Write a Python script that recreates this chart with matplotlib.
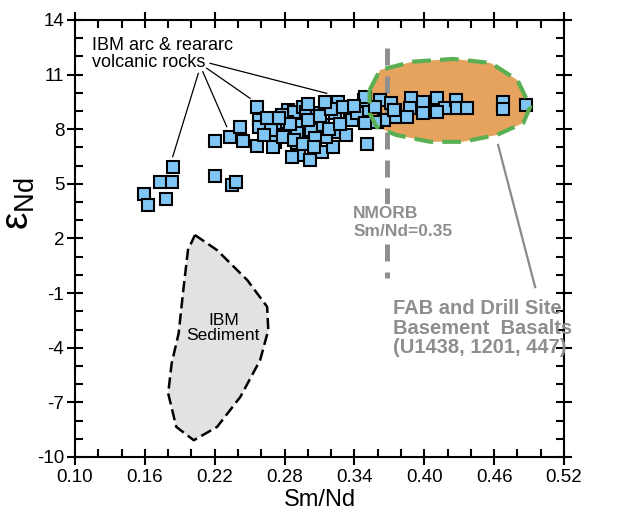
import matplotlib
matplotlib.use("Agg")
import matplotlib.pyplot as plt
from matplotlib.patches import Polygon
import numpy as np

plt.rcParams["font.family"] = ["Liberation Sans", "DejaVu Sans"]
plt.rcParams["axes.unicode_minus"] = False

# IBM arc & rear-arc volcanic rocks (Sm/Nd, eNd)
smnd = [0.184, 0.173, 0.183, 0.159, 0.163, 0.178,
        0.220, 0.220, 0.235, 0.238, 0.233, 0.242, 0.244,
        0.256, 0.258, 0.256, 0.258, 0.273, 0.276, 0.272, 0.270,
        0.283, 0.288, 0.296, 0.298, 0.282, 0.293, 0.291, 0.303, 0.308,
        0.313, 0.326, 0.316, 0.323, 0.325, 0.333, 0.336, 0.338, 0.348,
        0.349, 0.349, 0.351, 0.291, 0.292, 0.302, 0.312, 0.322, 0.286,
        0.268, 0.279, 0.288, 0.316, 0.306, 0.342,
        0.362, 0.371, 0.375, 0.389, 0.399, 0.411, 0.418, 0.427, 0.428,
        0.437, 0.388, 0.399, 0.411, 0.376, 0.359, 0.365, 0.385,
        0.468, 0.468, 0.487,
        0.349, 0.358, 0.358, 0.374, 0.349,
        0.265, 0.300, 0.310, 0.320, 0.330, 0.278, 0.285, 0.296, 0.305,
        0.318, 0.328, 0.340, 0.262, 0.275, 0.300, 0.315]
end = [5.94, 5.12, 5.12, 4.42, 3.84, 4.15,
       7.35, 5.43, 4.93, 5.12, 7.55, 8.10, 7.35,
       9.24, 8.51, 7.10, 8.14, 8.14, 7.68, 7.31, 7.04,
       9.05, 8.96, 9.24, 8.96, 8.41, 8.23, 7.77, 7.96, 8.87,
       8.23, 9.51, 9.33, 8.87, 7.86, 7.68, 8.87, 8.51, 9.60,
       8.96, 8.41, 7.19, 6.95, 6.58, 6.31, 6.76, 7.04, 6.49,
       7.96, 7.59, 7.41, 7.59, 7.50, 8.87,
       9.60, 9.42, 9.05, 9.70, 9.51, 9.70, 9.15, 9.60, 9.15,
       9.15, 9.15, 8.87, 8.96, 8.69, 8.41, 8.51, 8.69,
       9.51, 9.10, 9.33,
       9.79, 9.24, 8.41, 9.05, 8.34,
       8.60, 8.50, 8.70, 9.10, 9.20, 8.80, 8.30, 7.20, 7.00,
       8.00, 8.30, 9.30, 7.70, 8.60, 9.40, 9.50]

# FAB and drill-site basement basalts field outline
fab_x = [0.353, 0.362, 0.390, 0.425, 0.457, 0.480, 0.491, 0.485,
         0.462, 0.433, 0.405, 0.376, 0.359, 0.353]
fab_y = [10.15, 11.25, 11.71, 11.86, 11.64, 10.70, 9.24, 8.34,
         7.68, 7.31, 7.31, 7.68, 8.14, 8.89]

# IBM sediment field outline
sed_x = [0.203, 0.222, 0.248, 0.265, 0.266, 0.259, 0.242, 0.222,
         0.202, 0.187, 0.180, 0.183, 0.189, 0.193, 0.197]
sed_y = [2.19, 1.36, -0.29, -1.75, -3.03, -4.68, -6.70, -8.35,
         -9.08, -8.35, -6.51, -4.86, -3.21, -0.84, 1.36]

# NMORB Sm/Nd reference line
nmorb_x = 0.368
nmorb_top = 12.45
nmorb_bottom = -0.15

# leader lines from the "IBM arc" label
lead_start = [(0.2059, 11.07), (0.2097, 11.16), (0.2131, 11.35), (0.2160, 11.62)]
lead_end = [(0.1839, 6.49), (0.2303, 8.14), (0.2503, 9.70), (0.3162, 9.97)]
fab_lead = [(0.4634, 7.13), (0.4952, -0.67)]

xticks = [0.10, 0.16, 0.22, 0.28, 0.34, 0.40, 0.46, 0.52]
yticks = [-10, -7, -4, -1, 2, 5, 8, 11, 14]
xminor = [0.12, 0.14, 0.18, 0.20, 0.24, 0.26, 0.30, 0.32, 0.36, 0.38,
          0.42, 0.44, 0.48, 0.50]
yminor = [-9, -8, -6, -5, -3, -2, 0, 1, 3, 4, 6, 7, 9, 10, 12, 13]

fig = plt.figure(figsize=(6.17, 5.19), dpi=100)
ax = fig.add_axes([0.1216, 0.1195, 0.7925, 0.842])

gray_txt = "#8e8e8e"

ax.add_patch(Polygon(np.column_stack([sed_x, sed_y]), closed=True,
                     facecolor="#e2e2e2", edgecolor="black", lw=1.8,
                     linestyle=(0, (4.5, 2)), joinstyle="round", zorder=1))
ax.add_patch(Polygon(np.column_stack([fab_x, fab_y]), closed=True,
                     facecolor="#e6a35e", edgecolor="none", zorder=1))
ax.add_patch(Polygon(np.column_stack([fab_x, fab_y]), closed=True,
                     facecolor="none", edgecolor="#5aaf52", lw=3.0,
                     linestyle=(0, (4.5, 2.2)), joinstyle="round", zorder=4))

ax.plot([nmorb_x, nmorb_x], [nmorb_top, nmorb_bottom], color="#8f8f8f",
        lw=3.6, linestyle=(0, (3.4, 2.2)), solid_capstyle="butt", zorder=2)

for (x0, y0), (x1, y1) in zip(lead_start, lead_end):
    ax.plot([x0, x1], [y0, y1], color="black", lw=0.9, zorder=2)
ax.plot([fab_lead[0][0], fab_lead[1][0]], [fab_lead[0][1], fab_lead[1][1]],
        color="#8a8a8a", lw=1.6, zorder=2)

ax.plot(smnd, end, linestyle="none", marker="s", markersize=8,
        markerfacecolor="#80c6f4", markeredgecolor="black", markeredgewidth=1.5,
        zorder=3)

ax.text(0.1143, 12.12, "IBM arc & reararc\nvolcanic rocks", fontsize=13,
        ha="left", va="center", linespacing=1.0)
ax.text(0.2274, -2.92, "IBM\nSediment", fontsize=12.5, ha="center", va="center",
        linespacing=1.0)
ax.text(0.339, 2.87, "NMORB\nSm/Nd=0.35", fontsize=12.5, fontweight="bold",
        color=gray_txt, ha="left", va="center", linespacing=1.3,
        bbox=dict(facecolor="white", edgecolor="none", pad=1.5), zorder=5)
ax.text(0.3735, -2.92, "FAB and Drill Site\nBasement  Basalts\n(U1438, 1201, 447)",
        fontsize=14.5, fontweight="bold", color=gray_txt, ha="left", va="center",
        linespacing=1.02)

ax.set_xlim(0.10, 0.52)
ax.set_ylim(-10, 14)
ax.set_xticks(xticks)
ax.set_xticklabels([f"{v:.2f}" for v in xticks])
ax.set_yticks(yticks)
ax.set_xticks(xminor, minor=True)
ax.set_yticks(yminor, minor=True)

for s in ax.spines.values():
    s.set_linewidth(1.5)
ax.tick_params(which="major", direction="inout", length=11.5, width=1.5,
               top=True, right=True, labelsize=13.5)
ax.tick_params(which="minor", direction="in", length=5.5, width=1.5,
               top=True, right=True)
ax.tick_params(axis="x", which="major", pad=3)
ax.tick_params(axis="y", which="major", pad=2)

ax.set_xlabel("Sm/Nd", fontsize=17, labelpad=2)
ax.set_ylabel(r"$\mathregular{\varepsilon_{Nd}}$", fontsize=28)
ax.yaxis.set_label_coords(-0.078, 0.58)

fig.savefig("out.png", dpi=100)
